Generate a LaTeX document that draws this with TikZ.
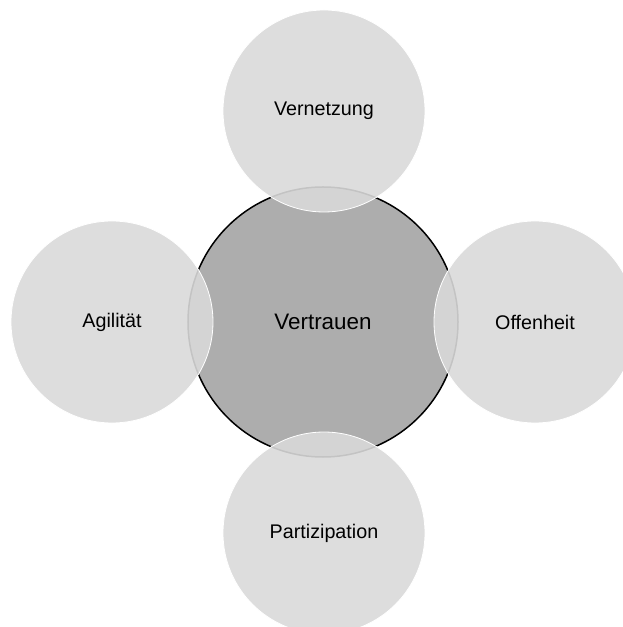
\documentclass[tikz,border=0pt]{standalone}
\usepackage{fontspec}
\setmainfont{Liberation Sans}
\usetikzlibrary{positioning}

\definecolor{corefill}{HTML}{ADADAD}
\definecolor{satfill}{HTML}{D9D9D9}

\begin{document}
\begin{tikzpicture}[
    x=1bp, y=1bp,
    core/.style={circle, draw=black, line width=1.5bp, fill=corefill,
        minimum size=270bp, inner sep=0pt,
        font=\fontsize{22.5}{27}\selectfont},
    satellite/.style={circle, draw=white, line width=0.8bp, fill=satfill,
        fill opacity=0.9, text opacity=1,
        minimum size=202bp, inner sep=0pt,
        font=\fontsize{19.8}{24}\selectfont}
]
\useasboundingbox (-323,-305) rectangle (300,322);

% Core value in the middle
\node[core] (vertrauen) at (0,0) {Vertrauen};

% The four values around it
\node[satellite] (vernetzung)    at (1,211)   {Vernetzung};
\node[satellite] (offenheit)     at (212,0)   {Offenheit};
\node[satellite] (partizipation) at (1,-211)  {Partizipation};
\node[satellite] (agilitaet)     at (-211,0)  {Agilität};

\end{tikzpicture}
\end{document}
